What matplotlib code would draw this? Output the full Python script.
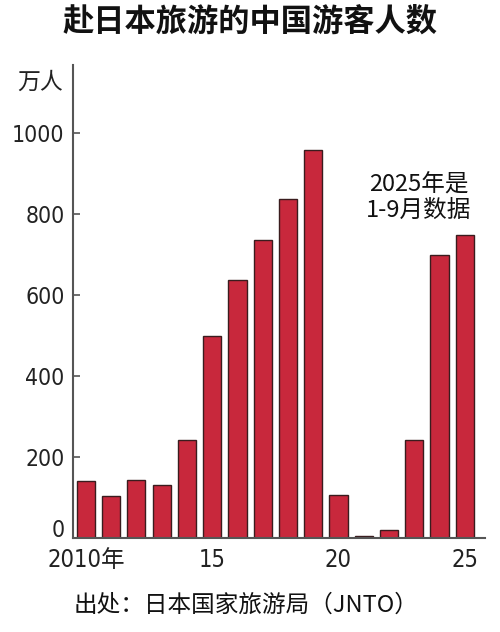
import matplotlib
matplotlib.use("Agg")
import matplotlib.pyplot as plt
from matplotlib import font_manager
from matplotlib.transforms import ScaledTranslation

years = list(range(2010, 2026))
visitors = [141, 104, 143, 131, 241, 499, 637, 736, 838, 959, 107, 4, 19, 242, 698, 749]
yticks = [0, 200, 400, 600, 800, 1000]
xtick_pos = [2010, 2015, 2020, 2025]
xtick_labels = ["2010年", "15", "20", "25"]

names = {f.name for f in font_manager.fontManager.ttflist}
narrow = "Liberation Sans Narrow" if "Liberation Sans Narrow" in names else "DejaVu Sans"
cjk = "Noto Sans CJK SC"
plt.rcParams['font.family'] = [cjk, 'DejaVu Sans']

fig = plt.figure(figsize=(5.0, 6.32), dpi=100)
ax = fig.add_axes([0.146, 0.149, 0.824, 0.748])

ax.bar(years, visitors, width=0.72, color="#c8283c", edgecolor="#3a1c1e", linewidth=1.0)

ax.set_xlim(2009.49, 2025.8)
ax.set_ylim(0, 1168)
ax.set_yticks(yticks)
ax.set_yticklabels([str(v) for v in yticks], family=[narrow, cjk], fontstretch='condensed',
                   fontsize=16.5, color="#222222")
ax.set_xticks(xtick_pos)
ax.set_xticklabels(xtick_labels, family=[narrow, cjk], fontstretch='condensed',
                   fontsize=17, color="#222222")
ax.tick_params(axis='y', direction='in', length=5, width=1.2, color="#555555", pad=6)
ax.tick_params(axis='x', length=0, pad=7)
for s in ['top', 'right']:
    ax.spines[s].set_visible(False)
for s in ['left', 'bottom']:
    ax.spines[s].set_color("#555555")
    ax.spines[s].set_linewidth(1.5)

# lift the "0" label above the x axis as in the reference
fig.canvas.draw()
zero_lbl = ax.get_yticklabels()[0]
zero_lbl.set_transform(zero_lbl.get_transform() + ScaledTranslation(0, 10 / 100, fig.dpi_scale_trans))

fig.text(0.5, 0.965, "赴日本旅游的中国游客人数", ha='center', va='center',
         fontsize=22.5, fontweight='bold', color="#111111")
fig.text(0.08, 0.87, "万人", ha='center', va='center', fontsize=16.5, color="#222222")
ax.text(2023.18, 840, "2025年是\n1-9月数据", ha='center', va='center', fontsize=17,
        linespacing=1.15, color="#111111")
fig.text(0.492, 0.043, "出处：日本国家旅游局（JNTO）", ha='center', va='center',
         fontsize=17, color="#111111")

fig.savefig("out.png", dpi=100)
